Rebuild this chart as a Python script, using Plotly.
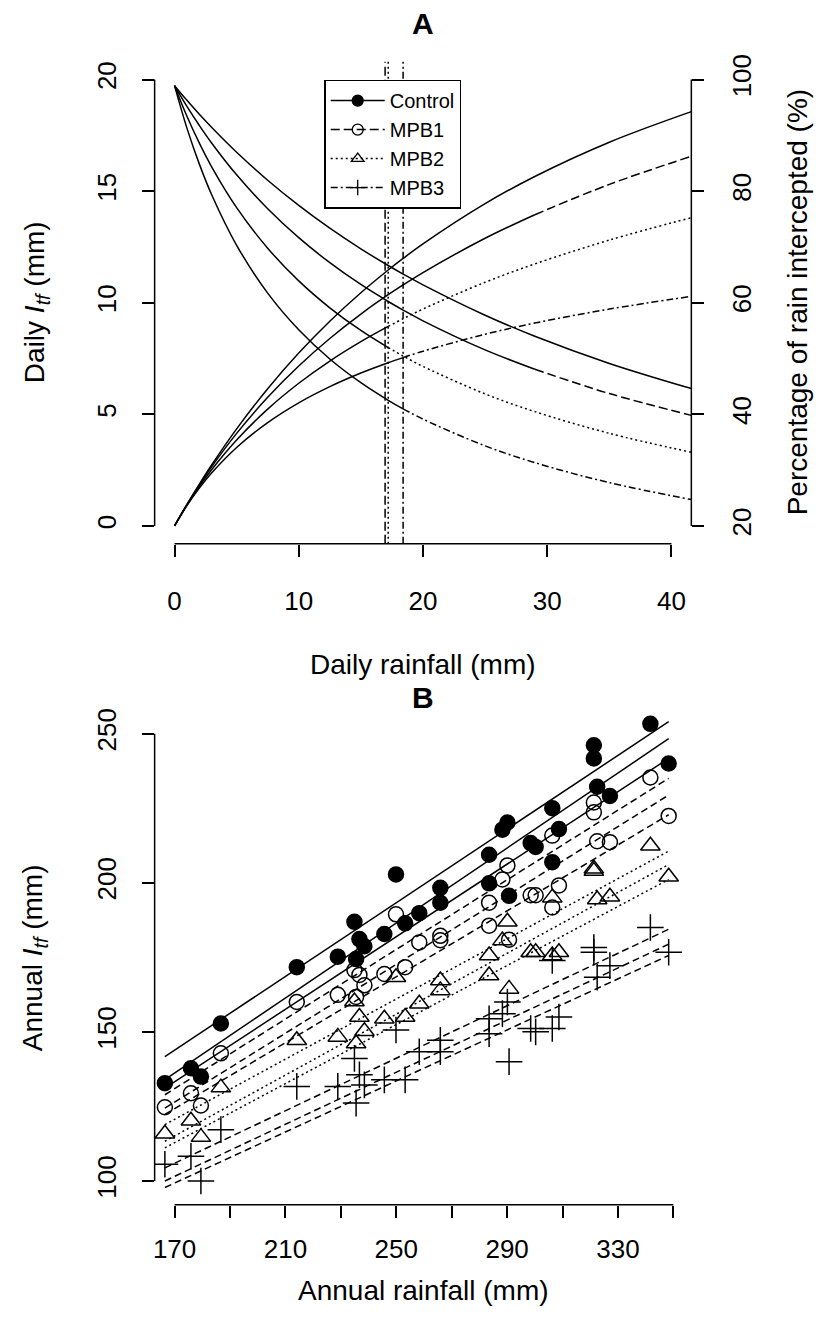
import plotly.graph_objects as go

FONT = "Liberation Sans, Arial, Helvetica, sans-serif"
W, H = 830, 1338

# ---------------- Panel A data ----------------
rain_daily = [0, 1, 2, 3, 5, 7.5, 10, 12.5, 15, 17.2, 18.4, 20, 25, 29, 35, 41.6]
itf_control = [0, 0.963, 1.876, 2.742, 4.349, 6.146, 7.743, 9.169, 10.448, 11.467, 11.986, 12.64, 14.44, 15.657, 17.192, 18.562]
itf_mpb1 = [0, 0.952, 1.835, 2.658, 4.146, 5.763, 7.166, 8.398, 9.491, 10.358, 10.797, 11.352, 12.888, 13.943, 15.302, 16.561]
itf_mpb2 = [0, 0.934, 1.772, 2.530, 3.853, 5.233, 6.391, 7.386, 8.255, 8.937, 9.283, 9.718, 10.915, 11.739, 12.807, 13.811]
itf_mpb3 = [0, 0.913, 1.697, 2.379, 3.515, 4.630, 5.515, 6.240, 6.851, 7.313, 7.542, 7.828, 8.588, 9.089, 9.716, 10.284]
pct_control = [98.9, 96.28, 93.78, 91.41, 86.97, 81.95, 77.43, 73.35, 69.65, 66.67, 65.14, 63.20, 57.76, 53.99, 49.12, 44.62]
pct_mpb1 = [98.9, 95.18, 91.76, 88.59, 82.92, 76.84, 71.66, 67.18, 63.27, 60.22, 58.68, 56.76, 51.55, 48.08, 43.72, 39.81]
pct_mpb2 = [98.9, 93.42, 88.60, 84.32, 77.05, 69.77, 63.91, 59.09, 55.03, 51.96, 50.45, 48.59, 43.66, 40.48, 36.59, 33.20]
pct_mpb3 = [98.9, 91.29, 84.84, 79.31, 70.30, 61.73, 55.15, 49.92, 45.67, 42.52, 40.99, 39.14, 34.35, 31.34, 27.76, 24.72]
solid_until = [None, 29, 17.2, 18.4]          # rainfall where each curve leaves the solid style
vline_x = [16.95, 17.2, 18.4]                 # vertical reference lines (MPB1, MPB2, MPB3)

treatments = ["Control", "MPB1", "MPB2", "MPB3"]
dashes = ["solid", "9px,4px", "2px,3px", "7px,3px,2px,3px"]
b_dashes = ["solid", "7px,4px", "2px,3px", "7px,4px"]

a_xticks = [0, 10, 20, 30, 40]
a_yticks = [0, 5, 10, 15, 20]
a_y2ticks = [20, 40, 60, 80, 100]

# ---------------- Panel B data ----------------
ctrl_x = [166.5, 175.9, 179.5, 186.7, 214.1, 228.9, 234.9, 235.5, 236.7, 238.5, 245.7, 249.9, 253.2, 258.3,
          265.9, 265.9, 283.5, 283.5, 288.3, 290.1, 290.7, 298.5, 300.3, 306.3, 306.3, 308.7, 321.3, 321.3,
          322.5, 327.1, 341.7, 348.3]
ctrl_y = [132.8, 137.8, 135.0, 152.8, 171.7, 175.2, 186.9, 174.4, 181.1, 178.7, 182.8, 202.8, 186.4, 189.8,
          198.3, 193.3, 209.4, 199.8, 217.8, 220.2, 195.6, 213.3, 212.0, 225.0, 206.9, 218.0, 246.1, 241.7,
          232.2, 229.1, 253.3, 240.0]
mpb1_x = ctrl_x
mpb1_y = [124.7, 129.4, 125.3, 142.8, 160.0, 162.4, 170.7, 161.7, 169.1, 165.6, 169.4, 189.4, 171.7, 180.0,
          182.2, 180.7, 193.3, 185.6, 201.1, 205.8, 180.9, 195.8, 195.8, 215.8, 191.7, 199.1, 226.9, 223.6,
          213.9, 213.6, 235.3, 222.4]
mpb2_x = ctrl_x
mpb2_y = [115.8, 120.2, 114.7, 131.3, 147.2, 148.3, 160.2, 146.1, 155.0, 150.2, 154.4, 168.3, 155.0, 159.4,
          167.2, 163.9, 175.6, 168.9, 180.6, 186.9, 164.4, 176.7, 176.7, 195.0, 175.6, 176.7, 203.9, 204.7,
          194.4, 195.3, 212.4, 202.0]
mpb3_x = ctrl_x
mpb3_y = [105.6, 108.3, 100.0, 117.2, 131.7, 131.7, 141.1, 126.1, 135.6, 132.2, 133.9, 150.6, 133.9, 143.3,
          147.2, 143.3, 154.4, 149.4, 156.1, 160.0, 140.0, 151.1, 150.0, 173.9, 151.1, 155.0, 178.3, 176.7,
          168.3, 172.2, 185.0, 176.7]

# fitted lines (one per plot, three plots per treatment): y at the two ends of reg_x
reg_x = [166.5, 348.3]
ctrl_fit = [[141.7, 254.0], [134.0, 248.3], [131.1, 241.7]]
mpb1_fit = [[128.9, 235.0], [124.4, 229.4], [122.3, 222.8]]
mpb2_fit = [[118.9, 210.6], [113.3, 206.1], [111.1, 201.1]]
mpb3_fit = [[104.4, 184.4], [100.0, 179.4], [97.8, 175.6]]

b_xticks = [170, 190, 210, 230, 250, 270, 290, 310, 330, 350]
b_xlabels = ["170", "", "210", "", "250", "", "290", "", "330", ""]
b_yticks = [100, 150, 200, 250]

# ---------------- figure ----------------
fig = go.Figure()
LW = 1.5

itfs = [itf_control, itf_mpb1, itf_mpb2, itf_mpb3]
pcts = [pct_control, pct_mpb1, pct_mpb2, pct_mpb3]


def add_curve(xs, ys, yaxis, dash, s):
    if s is None:
        parts = [(xs, ys, dash)]
    else:
        i1 = [i for i, v in enumerate(xs) if v <= s]
        i2 = [i for i, v in enumerate(xs) if v >= s]
        parts = [([xs[i] for i in i1], [ys[i] for i in i1], "solid"),
                 ([xs[i] for i in i2], [ys[i] for i in i2], dash)]
    for px, py, d in parts:
        fig.add_trace(go.Scatter(x=px, y=py, mode="lines", xaxis="x", yaxis=yaxis,
                                 line=dict(color="black", width=LW, dash=d, shape="spline", smoothing=1.0),
                                 showlegend=False, hoverinfo="skip"))


for k in range(4):
    add_curve(rain_daily, itfs[k], "y", dashes[k], solid_until[k])
    add_curve(rain_daily, pcts[k], "y2", dashes[k], solid_until[k])

for k, xv in enumerate(vline_x):
    fig.add_shape(type="line", xref="x", yref="y domain", x0=xv, x1=xv, y0=0, y1=1,
                  line=dict(color="black", width=LW, dash=dashes[k + 1]))

# legend entries
sym = ["circle", "circle-open", "triangle-up-open", "cross-thin-open"]
for k in range(4):
    fig.add_trace(go.Scatter(x=[None], y=[None], mode="lines+markers", name=treatments[k],
                             xaxis="x", yaxis="y",
                             line=dict(color="black", width=LW, dash=dashes[k]),
                             marker=dict(symbol=sym[k], size=11, color="black",
                                         line=dict(color="black", width=1.3))))

# Panel B
fits = [ctrl_fit, mpb1_fit, mpb2_fit, mpb3_fit]
for k in range(4):
    for f in fits[k]:
        fig.add_trace(go.Scatter(x=reg_x, y=f, mode="lines", xaxis="x3", yaxis="y3",
                                 line=dict(color="black", width=LW, dash=b_dashes[k]),
                                 showlegend=False, hoverinfo="skip"))

pts = [(ctrl_x, ctrl_y), (mpb1_x, mpb1_y), (mpb2_x, mpb2_y), (mpb3_x, mpb3_y)]
msize = [15, 15, 17, 19]
for k in range(4):
    fig.add_trace(go.Scatter(x=pts[k][0], y=pts[k][1], mode="markers", xaxis="x3", yaxis="y3",
                             marker=dict(symbol=sym[k], size=msize[k], color="black",
                                         line=dict(color="black", width=1.5)),
                             showlegend=False, hoverinfo="skip"))

# axis geometry (pixels)
ax_l, ax_r = 153, 691
a_top, a_bot = 54, 539
bx_l, bx_r = 153, 693
b_top, b_bot = 706, 1204

tickfont = dict(family=FONT, size=26, color="black")
common = dict(showgrid=False, zeroline=False, showline=False, ticks="outside", ticklen=12,
              tickwidth=1.5, tickcolor="black", tickfont=tickfont)

fig.update_layout(
    width=W, height=H, margin=dict(l=0, r=0, t=0, b=0),
    paper_bgcolor="white", plot_bgcolor="white",
    font=dict(family=FONT, color="black"),
    xaxis=dict(domain=[ax_l / W, ax_r / W], range=[-1.6, 41.6], anchor="y",
               tickvals=a_xticks, ticklabelstandoff=22, **common),
    yaxis=dict(domain=[1 - a_bot / H, 1 - a_top / H], range=[-0.8, 20.8], anchor="x",
               tickvals=a_yticks, tickangle=-90, ticklabelstandoff=15, **common),
    yaxis2=dict(domain=[1 - a_bot / H, 1 - a_top / H], range=[16.8, 103.2], anchor="x",
                overlaying="y", side="right", tickvals=a_y2ticks, tickangle=-90,
                ticklabelstandoff=15, **common),
    xaxis3=dict(domain=[bx_l / W, bx_r / W], range=[162.8, 357.2], anchor="y3",
                tickvals=b_xticks, ticktext=b_xlabels, ticklabelstandoff=9, **common),
    yaxis3=dict(domain=[1 - b_bot / H, 1 - b_top / H], range=[92, 258], anchor="x3",
                tickvals=b_yticks, tickangle=-90, ticklabelstandoff=15, **common),
    legend=dict(x=323 / W, y=1 - 72 / H, xanchor="left", yanchor="top",
                bgcolor="white", bordercolor="black", borderwidth=1.5,
                font=dict(family=FONT, size=20, color="black"), tracegroupgap=0,
                itemwidth=54),
    showlegend=True,
)

# axis lines spanning the tick range only (base-R style)
lw = dict(color="black", width=1.5)
fig.add_shape(type="line", xref="x", yref="y domain", x0=a_xticks[0], x1=a_xticks[-1], y0=0, y1=0, line=lw)
fig.add_shape(type="line", xref="x domain", yref="y", x0=0, x1=0, y0=a_yticks[0], y1=a_yticks[-1], line=lw)
fig.add_shape(type="line", xref="x domain", yref="y2", x0=1, x1=1, y0=a_y2ticks[0], y1=a_y2ticks[-1], line=lw)
fig.add_shape(type="line", xref="x3", yref="y3 domain", x0=b_xticks[0], x1=b_xticks[-1], y0=0, y1=0, line=lw)
fig.add_shape(type="line", xref="x3 domain", yref="y3", x0=0, x1=0, y0=b_yticks[0], y1=b_yticks[-1], line=lw)


def ann(text, xpx, ypx, size=28, angle=0, bold=False):
    t = f"<b>{text}</b>" if bold else text
    fig.add_annotation(text=t, x=xpx / W, y=1 - ypx / H, xref="paper", yref="paper",
                       showarrow=False, textangle=angle, xanchor="center", yanchor="middle",
                       font=dict(family=FONT, size=size, color="black"))


ann("A", 422, 16, size=30, bold=True)
ann("B", 422, 694, size=30, bold=True)
ann("Daily rainfall (mm)", 422, 660)
ann("Annual rainfall (mm)", 423, 1290)
ann("Daily <i>I</i><sub><i>tf</i></sub> (mm)", 34, 296, angle=-90)
ann("Percentage of rain intercepted (%)", 797, 296, angle=-90)
ann("Annual <i>I</i><sub><i>tf</i></sub> (mm)", 32, 955, angle=-90)

fig.write_html("out.html")
